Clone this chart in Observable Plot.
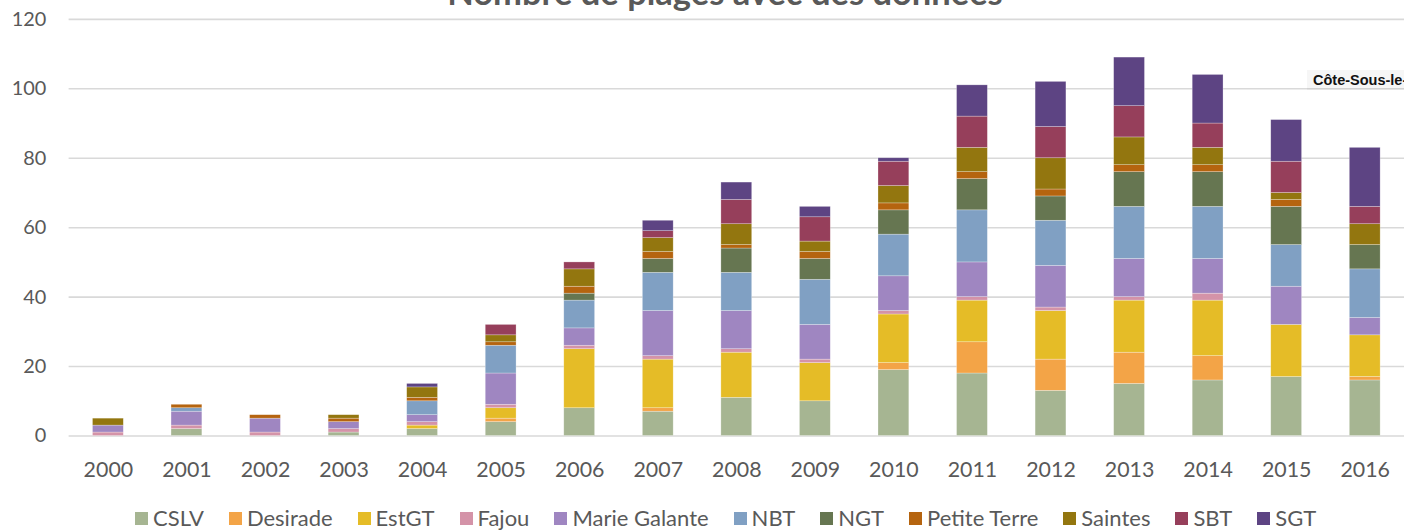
<!DOCTYPE html>
<html>
<head>
<meta charset="utf-8">
<script src="https://cdn.jsdelivr.net/npm/d3@7"></script>
<script src="https://cdn.jsdelivr.net/npm/@observablehq/plot@0.6"></script>
<style>
  html, body { margin: 0; padding: 0; background: #fff; overflow: hidden; }
  #wrap { position: relative; width: 1404px; height: 532px; overflow: hidden; }
  #title { position: absolute; left: 0; width: 1450px; top: -29px; text-align: center; line-height: normal;
    font-family: Lato, sans-serif; font-weight: bold; font-size: 34.5px; color: #595959; white-space: nowrap; }
  #chart { position: absolute; left: 0; top: 0; }
  #note { position: absolute; left: 1307px; top: 70px; padding: 2px 6px; white-space: nowrap;
    font-family: "Liberation Sans", Arial, sans-serif; font-weight: bold; font-size: 14.5px; color: #111;
    background: rgba(0,0,0,0.035); }
  #legend { position: absolute; left: 135px; top: 505px; display: flex; gap: 25px; align-items: center;
    font-family: Lato, sans-serif; font-size: 22px; line-height: 26px; color: #595959; white-space: nowrap; }
  .item { display: flex; align-items: center; gap: 5px; }
  .sw { width: 13px; height: 13px; display: inline-block; }
</style>
</head>
<body>
<div id="wrap">
  <div id="chart"></div>
  <div id="title">Nombre de plages avec des données</div>
  <div id="note">Côte-Sous-le-Vent</div>
  <div id="legend"></div>
</div>
<script>
const years = ["2000","2001","2002","2003","2004","2005","2006","2007","2008","2009","2010","2011","2012","2013","2014","2015","2016"];
const seriesNames = ["CSLV","Desirade","EstGT","Fajou","Marie Galante","NBT","NGT","Petite Terre","Saintes","SBT","SGT"];
const seriesColors = ["#A6B592","#F3A447","#E5BC27","#D493A8","#9F86C1","#80A0C3","#667651","#B5640F","#93760F","#963F5B","#5D4483"];
const yTicks = [0,20,40,60,80,100,120];

const CSLV         = [0,2,0,1,2,4,8,7,11,10,19,18,13,15,16,17,16];
const Desirade     = [0,0,0,0,0,1,0,1,0,0,2,9,9,9,7,0,1];
const EstGT        = [0,0,0,0,1,3,17,14,13,11,14,12,14,15,16,15,12];
const Fajou        = [1,1,1,1,1,1,1,1,1,1,1,1,1,1,2,0,0];
const MarieGalante = [2,4,4,2,2,9,5,13,11,10,10,10,12,11,10,11,5];
const NBT          = [0,1,0,0,4,8,8,11,11,13,12,15,13,15,15,12,14];
const NGT          = [0,0,0,0,0,0,2,4,7,6,7,9,7,10,10,11,7];
const PetiteTerre  = [0,1,1,1,1,1,2,2,1,2,2,2,2,2,2,2,0];
const Saintes      = [2,0,0,1,3,2,5,4,6,3,5,7,9,8,5,2,6];
const SBT          = [0,0,0,0,0,3,2,2,7,7,7,9,9,9,7,9,5];
const SGT          = [0,0,0,0,1,0,0,3,5,3,1,9,13,14,14,12,17];

const valuesBySeries = [CSLV, Desirade, EstGT, Fajou, MarieGalante, NBT, NGT, PetiteTerre, Saintes, SBT, SGT];

const data = [];
years.forEach((yr, i) => {
  seriesNames.forEach((s, j) => {
    data.push({year: yr, series: s, value: valuesBySeries[j][i]});
  });
});

const chart = Plot.plot({
  width: 1412,
  height: 490,
  marginLeft: 69,
  marginRight: 0,
  marginTop: 19,
  marginBottom: 52,
  style: {fontFamily: "Lato, sans-serif", fontSize: "20px", color: "#595959", background: "transparent"},
  x: {domain: years, paddingInner: 0.6076, paddingOuter: 0.3038, align: 0.5, label: null},
  y: {domain: [0, 120], label: null},
  color: {domain: seriesNames, range: seriesColors},
  marks: [
    Plot.ruleY(yTicks, {stroke: "#d9d9d9", strokeWidth: 1.6}),
    Plot.barY(data, {x: "year", y: "value", fill: "series", stroke: "white", strokeOpacity: 0.45, strokeWidth: 0.6}),
    Plot.axisY({ticks: yTicks, tickSize: 0, tickPadding: 23, label: null, fontSize: 20}),
    Plot.axisX({tickSize: 0, tickPadding: 26, label: null, fontSize: 21.5})
  ]
});
document.getElementById("chart").appendChild(chart);

const legend = document.getElementById("legend");
seriesNames.forEach((s, j) => {
  const item = document.createElement("div");
  item.className = "item";
  const sw = document.createElement("span");
  sw.className = "sw";
  sw.style.background = seriesColors[j];
  const lab = document.createElement("span");
  lab.textContent = s;
  item.appendChild(sw);
  item.appendChild(lab);
  legend.appendChild(item);
});
</script>
</body>
</html>
